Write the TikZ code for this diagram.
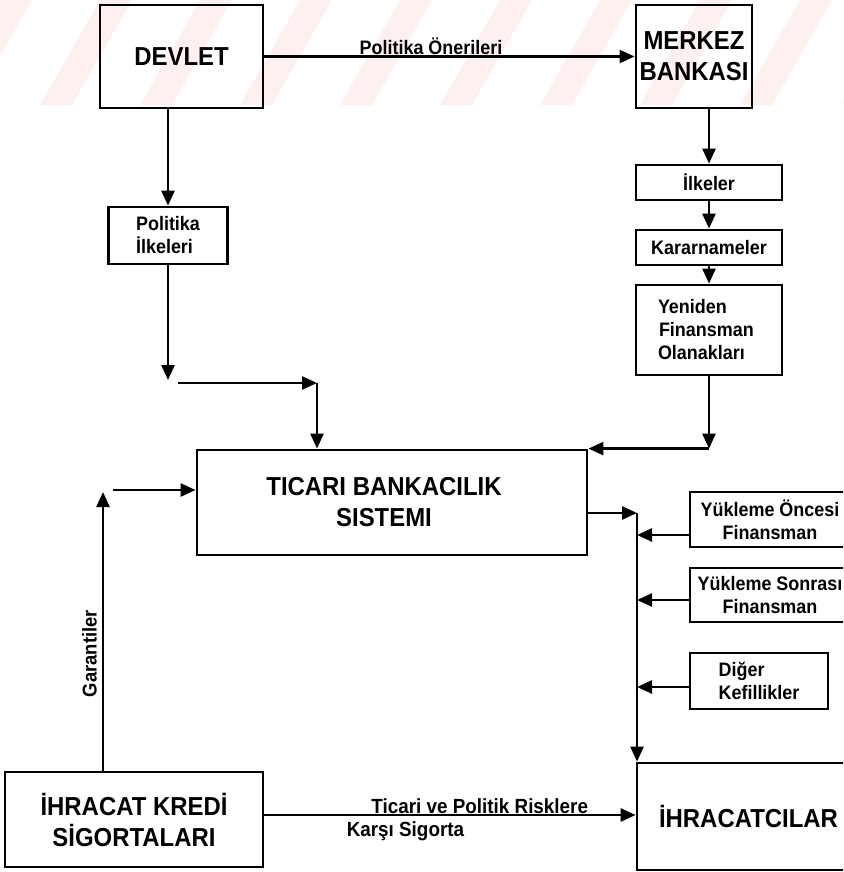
\documentclass[tikz,border=0pt]{standalone}
\usepackage{fontspec}
\setmainfont{Liberation Sans}[FakeStretch=0.92]
\usetikzlibrary{arrows.meta}
\begin{document}
\begin{tikzpicture}[x=1pt,y=-1pt,
  box/.style={draw, line width=2.8pt, inner sep=0pt},
  link/.style={line width=2.5pt, -{Triangle[length=15pt,width=13pt]}},
  big/.style={font=\fontsize{26}{31}\selectfont\bfseries, align=center},
  small/.style={font=\fontsize{19.5}{23}\selectfont\bfseries},
  lbl/.style={font=\fontsize{19.5}{23}\selectfont\bfseries, inner sep=0.5pt},
]
\useasboundingbox (0,0) rectangle (843,872);
\clip (0,0) rectangle (843,872);

% faint diagonal stripes across the top band
\foreach \i in {0,...,9}
  \fill[red!6] (\i*100-60,105) -- ++(32,0) -- ++(60,-105) -- ++(-32,0) -- cycle;

% top row
\node[box, big, minimum width=163pt, minimum height=103pt] (devlet) at (181.5,56.5) {DEVLET};
\node[box, big, minimum width=116pt, minimum height=103pt] (merkez) at (694,56.5) {MERKEZ\\BANKASI};

% left column
\node[box, small, align=left, minimum width=119pt, minimum height=57pt] (pilk) at (168,235.5) {Politika\\İlkeleri};

% right column
\node[box, small, minimum width=146pt, minimum height=35pt] (ilkeler) at (709,182.5) {İlkeler};
\node[box, small, minimum width=146pt, minimum height=35pt] (karar) at (709,247.5) {Kararnameler};
\node[box, small, align=left, minimum width=146pt, minimum height=90pt, text width=110pt] (yeniden) at (709,330) {\hspace*{4pt}Yeniden\\\hspace*{5pt}Finansman\\\hspace*{4pt}Olanakları};

% centre
\node[box, big, minimum width=390pt, minimum height=105pt] (ticari) at (392,502.5) {TICARI BANKACILIK\hspace*{16pt}\\SISTEMI\hspace*{16pt}};

% financing instruments on the right
\node[box, small, align=center, minimum width=160pt, minimum height=55pt] (yonce) at (770,519.5) {Yükleme Öncesi\\Finansman};
\node[box, small, align=center, minimum width=160pt, minimum height=54pt] (ysonra) at (770,595) {Yükleme Sonrası\\Finansman};
\node[box, small, align=left, minimum width=138pt, minimum height=56pt] (diger) at (759,681) {Diğer\\Kefillikler};

% bottom row
\node[box, big, minimum width=258pt, minimum height=95pt] (esk) at (134,819.5) {İHRACAT KREDİ\\SİGORTALARI};
\node[box, big, minimum width=223pt, minimum height=107pt] (ihrac) at (748.5,816.5) {İHRACATCILAR};

% connectors
\draw[link] (devlet.east) -- (merkez.west)
  node[lbl, pos=0.45, above] (oneri) {Politika Önerileri};

\draw[link] (devlet.south -| pilk.north) -- (pilk.north);
\coordinate (pend) at (168,380);
\draw[link] (pilk.south) -- (pend);
\coordinate (pstart) at (178,383);
\coordinate (pcorner) at (317,383);
\draw[link] (pstart) -- (pcorner);
\draw[link] (pcorner) -- (pcorner |- ticari.north);

\draw[link] (merkez.south -| ilkeler.north) -- (ilkeler.north);
\draw[link] (ilkeler.south) -- (karar.north);
\draw[link] (karar.south) -- (yeniden.north);
\draw[link] (yeniden.south) -- (yeniden.south |- ticari.north);
\draw[link] (yeniden.south |- ticari.north) -- (ticari.north east);

\coordinate (gin) at (113,490);
\draw[link] (gin) -- (gin -| ticari.west);
\coordinate (gtop) at (103,492);
\draw[link] (esk.north -| gtop) -- (gtop)
  node[lbl, pos=0.42, sloped, above, inner sep=5pt, font=\fontsize{20}{24}\selectfont\bfseries] (garanti) {Garantiler};

\coordinate (tx) at (637,513);
\draw[link] (tx -| ticari.east) -- (tx);
\draw[link] (tx) -- (tx |- ihrac.north);

\draw[link] ([yshift=-15.5pt]yonce.west) -- ([yshift=-15.5pt]yonce.west -| tx);
\draw[link] ([yshift=-5pt]ysonra.west) -- ([yshift=-5pt]ysonra.west -| tx);
\draw[link] ([yshift=-6pt]diger.west) -- ([yshift=-6pt]diger.west -| tx);

\draw[link] ([yshift=4.5pt]esk.east) -- ([yshift=4.5pt]esk.east -| ihrac.west)
  node[lbl, pos=0.58, above, font=\fontsize{20.5}{24}\selectfont\bfseries] (risk) {Ticari ve Politik Risklere}
  node[lbl, pos=0.38, below, font=\fontsize{20.5}{24}\selectfont\bfseries, inner sep=5pt] (sigorta) {Karşı Sigorta};
\end{tikzpicture}
\end{document}
